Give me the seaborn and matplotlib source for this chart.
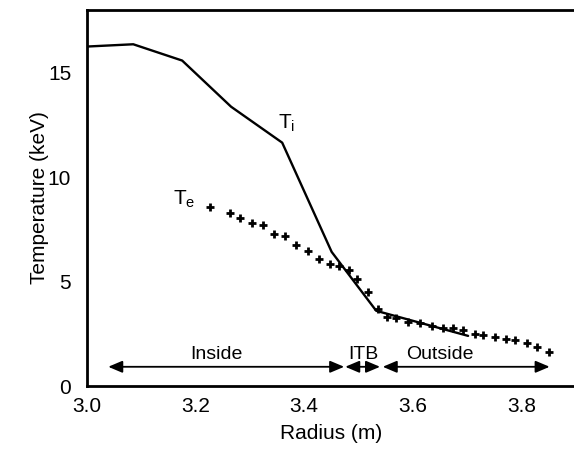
import matplotlib
matplotlib.use("Agg")
import matplotlib.pyplot as plt
from matplotlib.patches import ArrowStyle
from matplotlib.ticker import MultipleLocator, FormatStrFormatter
import seaborn as sns
import pandas as pd

# Ion temperature profile (piecewise linear)
ti_radius = [3.000, 3.086, 3.176, 3.266, 3.360, 3.451, 3.533, 3.702]
ti_kev = [16.25, 16.36, 15.58, 13.37, 11.65, 6.42, 3.60, 2.40]

# Electron temperature measurements
te_radius = [3.228, 3.264, 3.282, 3.304, 3.325, 3.345, 3.365, 3.385, 3.407,
             3.428, 3.448, 3.465, 3.483, 3.497, 3.517, 3.536, 3.553, 3.569,
             3.592, 3.614, 3.635, 3.655, 3.674, 3.693, 3.715, 3.730, 3.752,
             3.771, 3.789, 3.810, 3.828, 3.850]
te_kev = [8.58, 8.30, 8.04, 7.82, 7.69, 7.26, 7.17, 6.74, 6.47,
          6.07, 5.83, 5.73, 5.54, 5.10, 4.49, 3.71, 3.31, 3.26,
          3.07, 3.00, 2.87, 2.76, 2.76, 2.68, 2.50, 2.45, 2.33,
          2.26, 2.18, 2.06, 1.87, 1.62]

# Radial regions: label, start, end and label centre
region_names = ["Inside", "ITB", "Outside"]
region_start = [3.040, 3.476, 3.545]
region_end = [3.474, 3.540, 3.852]
region_label_x = [3.239, 3.509, 3.650]
region_arrow_y = 0.92
region_label_y = 1.10

sns.set_style("white")
plt.rcParams["font.family"] = ["Liberation Sans", "DejaVu Sans"]
plt.rcParams["mathtext.default"] = "regular"
plt.rcParams["text.color"] = "black"
plt.rcParams["axes.labelcolor"] = "black"
plt.rcParams["xtick.color"] = "black"
plt.rcParams["ytick.color"] = "black"

fig = plt.figure(figsize=(5.74, 4.49), dpi=100)
ax = fig.add_axes([0.1507, 0.1403, 0.8523, 0.8374])

ti_df = pd.DataFrame({"radius": ti_radius, "temp": ti_kev})
te_df = pd.DataFrame({"radius": te_radius, "temp": te_kev})

sns.lineplot(data=ti_df, x="radius", y="temp", color="black", linewidth=1.7,
             ax=ax, sort=False)
sns.scatterplot(data=te_df, x="radius", y="temp", marker="+", color="black",
                s=34, linewidth=2.0, ax=ax, zorder=3)

ax.set_xlim(3.0, 3.9)
ax.set_ylim(0, 18)
ax.xaxis.set_major_locator(MultipleLocator(0.2))
ax.xaxis.set_minor_locator(MultipleLocator(0.05))
ax.yaxis.set_major_locator(MultipleLocator(5))
ax.yaxis.set_minor_locator(MultipleLocator(1))
ax.xaxis.set_major_formatter(FormatStrFormatter("%.1f"))

ax.tick_params(which="both", direction="in", colors="black", width=1.4,
               labelsize=15)
ax.tick_params(which="major", length=8)
ax.tick_params(which="minor", length=6)
ax.tick_params(axis="y", which="both", pad=11)
ax.tick_params(axis="x", which="both", pad=8)

for side in ["left", "bottom", "top"]:
    ax.spines[side].set_linewidth(2.0)
    ax.spines[side].set_color("black")
ax.spines["right"].set_visible(False)

ax.set_xlabel("Radius (m)", fontsize=15, labelpad=6)
ax.set_ylabel("Temperature (keV)", fontsize=15, labelpad=-1)

ax.text(3.353, 12.33, r"T$_{i}$", fontsize=15, ha="left", va="baseline")
ax.text(3.160, 8.70, r"T$_{e}$", fontsize=15, ha="left", va="baseline")

style = ArrowStyle("<|-|>", head_length=0.85, head_width=0.36)
for name, x0, x1, xl in zip(region_names, region_start, region_end,
                             region_label_x):
    ax.annotate("", xy=(x1, region_arrow_y), xytext=(x0, region_arrow_y),
                arrowprops=dict(arrowstyle=style, mutation_scale=10,
                                color="black", lw=1.3, shrinkA=0, shrinkB=0))
    ax.text(xl, region_label_y, name, fontsize=14, ha="center",
            va="bottom")

fig.savefig("out.png", dpi=100, facecolor="white")
